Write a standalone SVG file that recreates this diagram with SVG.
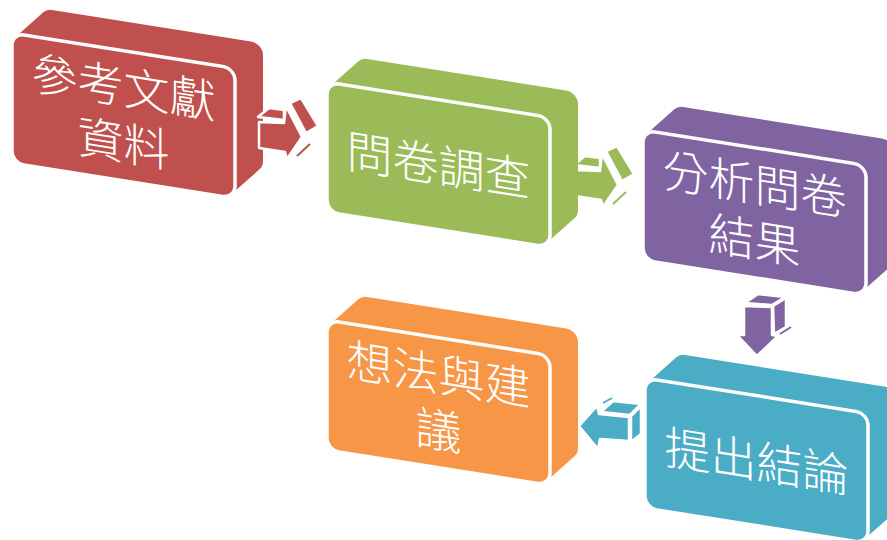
<svg xmlns="http://www.w3.org/2000/svg" width="887" height="540" viewBox="0 0 887 540">
<defs>
<style>
.ext{stroke:none}
.face{stroke:#fff;stroke-width:3.5}
.lbl{font-family:"Noto Sans CJK TC","Noto Sans CJK SC",sans-serif;font-size:46px;font-weight:300;fill:#fff;text-anchor:middle}
.ar{stroke:#fff;stroke-width:2.5;stroke-linejoin:round}
.sl{fill:none;stroke-width:2}
.red{fill:#C0504D}.green{fill:#9BBB59}.purple{fill:#8064A2}.teal{fill:#4BACC6}.orange{fill:#F79646}
</style>
<path id="hull" d="M0,118 L0,12 A12,12 0 0 1 3.31,3.72 L31.31,-25.68 A12,12 0 0 1 40,-29.4 L239,-29.4 A12,12 0 0 1 251,-17.4 L251,88.6 A12,12 0 0 1 247.69,96.88 L219.69,126.28 A12,12 0 0 1 211,130 L12,130 A12,12 0 0 1 0,118 Z"/>
<rect id="front" x="0" y="0" width="223" height="130" rx="12" ry="12"/>
</defs>
<rect width="887" height="540" fill="#fff"/>

<g id="node1" transform="translate(12,33) skewY(9)">
<use href="#hull" class="red ext"/>
<use href="#front" class="red face"/>
<text class="lbl" x="111.5" y="53.5">參考文獻</text>
<text class="lbl" x="111.5" y="109.5">資料</text>
</g>

<g id="connectors">
<g id="arrow1">
<polygon class="red ar" points="258,117 269,108 284,110 284,120"/>
<polygon class="red ar" points="259,122 284,123 286,106 302,137 287,159 285,152 259,148"/>
<polygon class="red ar" points="290,103 301,98 318,126 306,133"/>
<line class="sl" stroke="#C0504D" x1="297" y1="156" x2="310" y2="144"/>
</g>
<g id="arrow2" transform="translate(316,48)">
<polygon class="green ar" points="258,117 269,108 284,110 284,120"/>
<polygon class="green ar" points="259,122 284,123 286,106 302,137 287,159 285,152 259,148"/>
<polygon class="green ar" points="290,103 301,98 318,126 306,133"/>
<line class="sl" stroke="#9BBB59" x1="297" y1="156" x2="310" y2="144"/>
</g>
<g id="arrow3">
<polygon class="purple ar" points="745,303 772,305 785,297 758,294"/>
<polygon class="purple ar" points="773,306 786,298 786,327 774,334"/>
<polygon class="purple ar" points="744,306 772,307 772,335 778,336 757,356 737,335 744,335"/>
<line class="sl" stroke="#8064A2" x1="780" y1="334" x2="791" y2="327"/>
</g>
</g>

<g id="node2" transform="translate(327,82) skewY(9)">
<use href="#hull" class="green ext"/>
<use href="#front" class="green face"/>
<text class="lbl" x="111.5" y="82.5">問卷調查</text>
</g>

<g id="node3" transform="translate(643,130) skewY(9)">
<use href="#hull" class="purple ext"/>
<use href="#front" class="purple face"/>
<text class="lbl" x="111.5" y="53.5">分析問卷</text>
<text class="lbl" x="111.5" y="109.5">結果</text>
</g>

<g id="node4" transform="translate(645,378) skewY(9)">
<use href="#hull" class="teal ext"/>
<use href="#front" class="teal face"/>
<text class="lbl" x="111.5" y="82.5">提出結論</text>
</g>

<g id="node5" transform="translate(327,320) skewY(9)">
<use href="#hull" class="orange ext"/>
<use href="#front" class="orange face"/>
<text class="lbl" x="111.5" y="53.5">想法與建</text>
<text class="lbl" x="111.5" y="109.5">議</text>
</g>

<g id="connectors-2">
<g id="arrow4">
<polygon class="teal ar" points="601,412 613,401 641,404 630,415"/>
<polygon class="teal ar" points="631,416 641,406 641,434 631,442"/>
<polygon class="teal ar" points="579,426 597,406 599,414 629,417 629,441 600,439 598,449"/>
<line class="sl" stroke="#4BACC6" x1="603" y1="403" x2="612" y2="398"/>
</g>
</g>
</svg>
